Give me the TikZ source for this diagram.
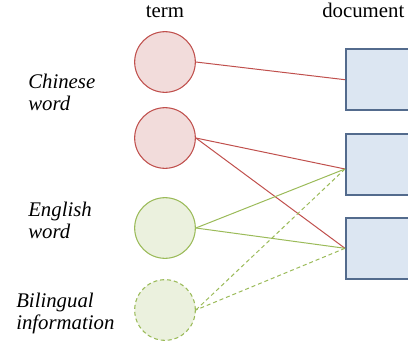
\documentclass[tikz,border=0pt]{standalone}
\usepackage{fontspec}
\setmainfont{LiberationSerif}[Extension=.ttf, UprightFont=*-Regular, ItalicFont=*-Italic, BoldFont=*-Bold]
\usetikzlibrary{positioning, calc}

\definecolor{termred}{HTML}{C0504D}
\definecolor{termredfill}{HTML}{F2DCDB}
\definecolor{termgreen}{HTML}{9BBB59}
\definecolor{termgreenfill}{HTML}{EBF1DE}
\definecolor{docfill}{HTML}{DCE6F2}
\definecolor{docline}{HTML}{536B8D}

\begin{document}
\begin{tikzpicture}[
    x=0.75pt, y=-0.75pt,
    term/.style={circle, draw, line width=0.8pt, inner sep=0pt, minimum size=45.5pt},
    cnterm/.style={term, draw=termred, fill=termredfill},
    enterm/.style={term, draw=termgreen, fill=termgreenfill},
    bilterm/.style={enterm, dashed, dash pattern=on 3pt off 2.2pt},
    doc/.style={rectangle, draw=docline, fill=docfill, line width=1.5pt, minimum width=60pt, minimum height=46pt, anchor=west},
    lbl/.style={font=\fontsize{15.6}{16.5}\selectfont, inner sep=0pt},
    side/.style={lbl, font=\fontsize{15.6}{16.5}\selectfont\itshape, align=left, anchor=west},
    cnlink/.style={draw=termred, line width=0.75pt},
    enlink/.style={draw=termgreen, line width=0.75pt},
    bllink/.style={enlink, dash pattern=on 3pt off 2.2pt}
]
\clip (0,0) rectangle (408,343);
\useasboundingbox (0,0) rectangle (408,343);

% headings
\node[lbl, anchor=base] (termhead) at (165,17) {term};
\node[lbl, anchor=base west] (dochead) at (322,17) {document};

% term nodes
\node[cnterm] (cn1) at (165,62) {};
\node[cnterm] (cn2) at (165,138) {};
\node[enterm] (en1) at (165,228) {};
\node[bilterm] (bil) at (165,310) {};

% document nodes
\node[doc] (doc1) at (345,79.7) {};
\node[doc] (doc2) at (345,164.4) {};
\node[doc] (doc3) at (345,248.3) {};

% side labels
\node[side] (cnlabel) at (28,92) {Chinese\\word};
\node[side] (enlabel) at (28,220) {English\\word};
\node[side] (billabel) at (16,313) {Bilingual\\information};

% links
\draw[cnlink] (cn1.east) -- (doc1.west);
\draw[cnlink] (cn2.east) -- ($(doc2.west)+(0,4.6)$);
\draw[cnlink] (cn2.east) -- (doc3.west);
\draw[enlink] (en1.east) -- ($(doc2.west)+(0,4.6)$);
\draw[enlink] (en1.east) -- (doc3.west);
\draw[bllink] ($(doc2.west)+(0,4.6)$) -- (bil.east);
\draw[bllink] (doc3.west) -- (bil.east);
\end{tikzpicture}
\end{document}
